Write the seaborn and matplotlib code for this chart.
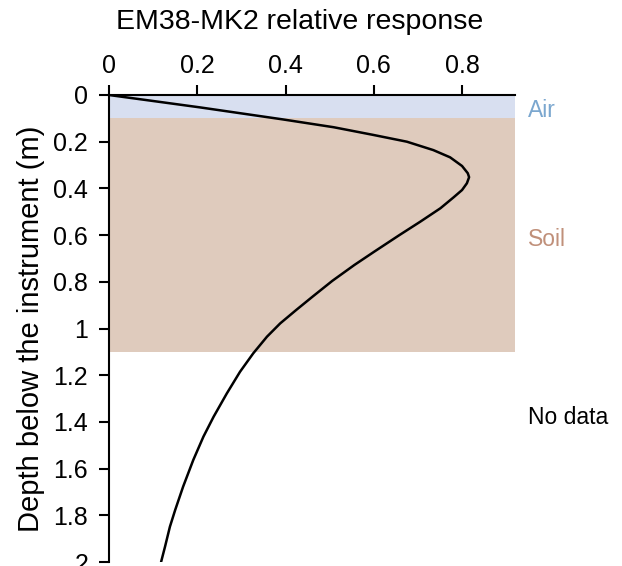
import matplotlib
matplotlib.use("Agg")
import matplotlib.pyplot as plt
import seaborn as sns
import pandas as pd

# Data
depth = [0.0, 0.053, 0.104, 0.138, 0.171, 0.200, 0.236, 0.267, 0.304, 0.335,
         0.352, 0.378, 0.407, 0.438, 0.485, 0.543, 0.600, 0.671, 0.728, 0.796,
         0.864, 0.921, 0.978, 1.035, 1.106, 1.185, 1.278, 1.378, 1.463, 1.563,
         1.677, 1.777, 1.849, 1.934, 2.0]
response = [0.0, 0.206, 0.392, 0.509, 0.599, 0.675, 0.735, 0.773, 0.800, 0.813,
            0.816, 0.811, 0.800, 0.781, 0.751, 0.705, 0.658, 0.601, 0.556, 0.506,
            0.461, 0.424, 0.388, 0.358, 0.327, 0.297, 0.267, 0.237, 0.214, 0.191,
            0.168, 0.150, 0.138, 0.127, 0.118]
x_ticks = [0, 0.2, 0.4, 0.6, 0.8]
x_tick_labels = ["0", "0.2", "0.4", "0.6", "0.8"]
y_ticks = [0, 0.2, 0.4, 0.6, 0.8, 1.0, 1.2, 1.4, 1.6, 1.8, 2.0]
y_tick_labels = ["0", "0.2", "0.4", "0.6", "0.8", "1", "1.2", "1.4", "1.6", "1.8", "2"]
layer_names = ["Air", "Soil", "No data"]
layer_top = [0.0, 0.1, 1.1]
layer_bottom = [0.1, 1.1, 2.0]
layer_label_depth = [0.065, 0.62, 1.38]

sns.set_theme(style="white")
plt.rcParams["font.family"] = ["Liberation Sans", "DejaVu Sans"]
plt.rcParams["text.color"] = "black"
plt.rcParams["axes.labelcolor"] = "black"

fig = plt.figure(figsize=(6.22, 5.66), dpi=100)
ax = fig.add_axes([109 / 622, 1 - 562 / 566, (515 - 109) / 622, (562 - 95) / 566])

fills = ["#d8dff0", "#dfcbbd", None]
text_colors = ["#7ba7cf", "#c0907a", "black"]
for name, top, bot, ly, fc, tc in zip(layer_names, layer_top, layer_bottom,
                                     layer_label_depth, fills, text_colors):
    if fc is not None:
        ax.axhspan(top, bot, xmin=0, xmax=1, color=fc, lw=0, zorder=0)
    ax.text(0.95, ly, name, color=tc, fontsize=16.5, va="center", ha="left",
            clip_on=False)

df = pd.DataFrame({"depth": depth, "response": response})
sns.lineplot(data=df, x="response", y="depth", orient="y", color="black",
             lw=1.8, ax=ax, zorder=3)

ax.set_xlim(0, 0.92)
ax.set_ylim(2.0, 0.0)
ax.xaxis.tick_top()
ax.set_xticks(x_ticks)
ax.set_xticklabels(x_tick_labels)
ax.set_yticks(y_ticks)
ax.set_yticklabels(y_tick_labels)
ax.tick_params(axis="both", which="major", labelsize=18, length=7, width=1.5,
               direction="out", colors="black", left=True, top=True,
               bottom=False)
ax.tick_params(axis="y", pad=8)
ax.tick_params(axis="x", pad=5)
ax.set_xlabel("")
ax.set_ylabel("Depth below the instrument (m)", fontsize=21, labelpad=6)

for s in ["right", "bottom"]:
    ax.spines[s].set_visible(False)
for s in ["left", "top"]:
    ax.spines[s].set_color("black")
    ax.spines[s].set_linewidth(1.5)

fig.text(300 / 622, 1 - 22 / 566, "EM38-MK2 relative response", fontsize=20.5,
         ha="center", va="center")

fig.savefig("out.png", dpi=100)
